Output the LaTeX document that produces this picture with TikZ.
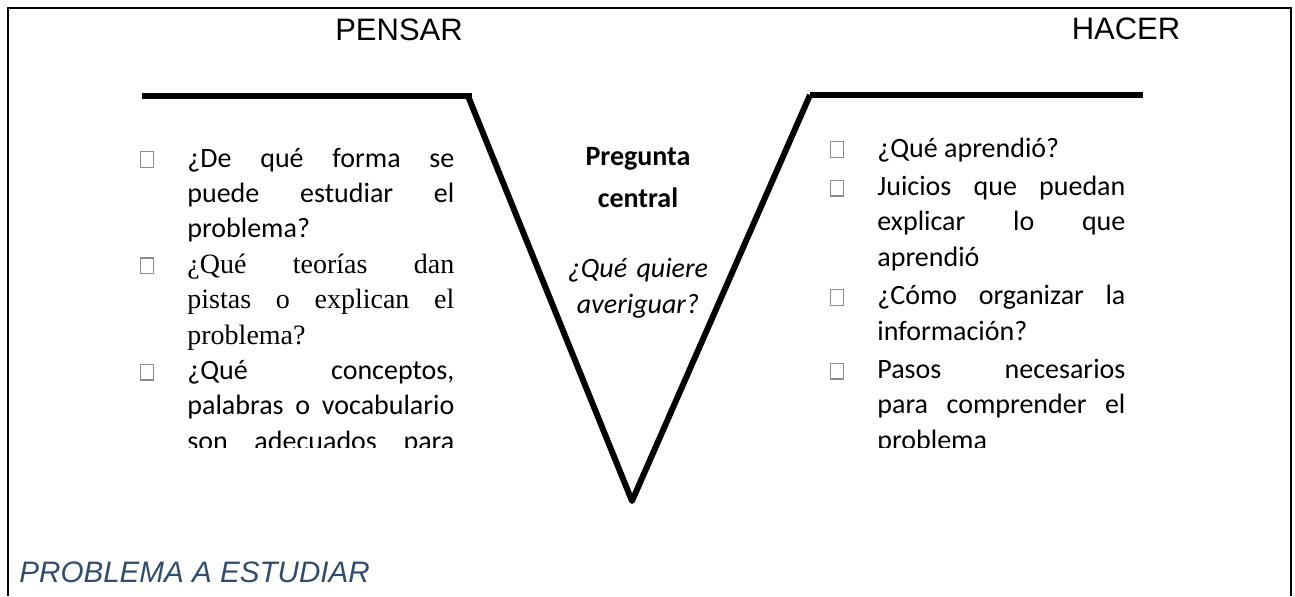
\documentclass[tikz,border=0pt]{standalone}
\usepackage{fontspec}
\setmainfont{Carlito}
\newfontfamily\arialfont{Liberation Sans}
\newfontfamily\timesfont{Liberation Serif}
\definecolor{azulproblema}{HTML}{2E4C6D}
\definecolor{grisbox}{gray}{0.55}
\newcommand\casilla{\leavevmode\llap{{\color{grisbox}\fboxsep=0pt\fboxrule=0.6pt\fbox{\vrule width0pt height7.3pt\kern6pt}}\kern16.5pt}}

\begin{document}
\begin{tikzpicture}[x=0.5pt,y=-0.5pt,
  titulo node/.style={anchor=base,inner sep=0pt,font=\arialfont\fontsize{15.5}{18}\selectfont},
  problema node/.style={anchor=base west,inner sep=0pt,text=azulproblema,font=\arialfont\itshape\fontsize{14.8}{17}\selectfont},
  lista node/.style={anchor=base west,inner sep=0pt,align=justify,font=\fontsize{14}{17.7}\selectfont},
  centro node/.style={anchor=base,inner sep=0pt,text width=80pt,align=center},
  uve/.style={line width=3pt,line cap=butt,line join=round},
  marco/.style={line width=1.2pt}]

  \useasboundingbox (0,0) rectangle (1295,596);
  \draw[marco] (8,596) |- (1291,8) -- (1291,596);

  \node[titulo node] (pensar) at (399,40) {PENSAR};
  \node[titulo node] (hacer)  at (1126,39) {HACER};

  \coordinate (izq)      at (142,96);
  \coordinate (codo izq) at (472,96);
  \coordinate (vertice)  at (632,501);
  \coordinate (codo der) at (808,95);
  \coordinate (der)      at (1143,95);

  \draw[uve] (izq) -- (codo izq);
  \draw[uve] ([xshift=-2]codo izq) -- (vertice) -- ([xshift=1]codo der);
  \draw[uve] ([xshift=1]codo der) -- (der);

  \node[centro node,font=\bfseries\fontsize{14}{21}\selectfont] (pregunta) at (638,165)
    {Pregunta\\central};
  \node[centro node,font=\itshape\fontsize{14}{18}\selectfont] (averiguar) at (638,277)
    {¿Qué quiere\\averiguar?};

  \begin{scope}
    \clip (0,0) rectangle (1295,447);
    \node[lista node,text width=133.5pt] (pensar lista) at (187,167) {%
      \tolerance=10000 \hyphenpenalty=10000
      \casilla ¿De qué forma se\linebreak puede estudiar el\linebreak problema?\par
      \casilla{\timesfont ¿Qué teorías dan\linebreak pistas o explican el\linebreak problema?}\par
      \casilla ¿Qué conceptos,\linebreak palabras o vocabulario\linebreak son adecuados para\linebreak\mbox{}};
    \node[lista node,text width=124pt] (hacer lista) at (877,157) {%
      \tolerance=10000 \hyphenpenalty=10000 \parskip=1.5pt
      \casilla ¿Qué aprendió?\par
      \casilla Juicios que puedan\linebreak explicar lo que\linebreak aprendió\par
      \casilla ¿Cómo organizar la\linebreak información?\par
      \casilla Pasos necesarios\linebreak para comprender el\linebreak problema};
  \end{scope}

  \node[problema node] (problema) at (19,582) {PROBLEMA A ESTUDIAR};
\end{tikzpicture}
\end{document}
